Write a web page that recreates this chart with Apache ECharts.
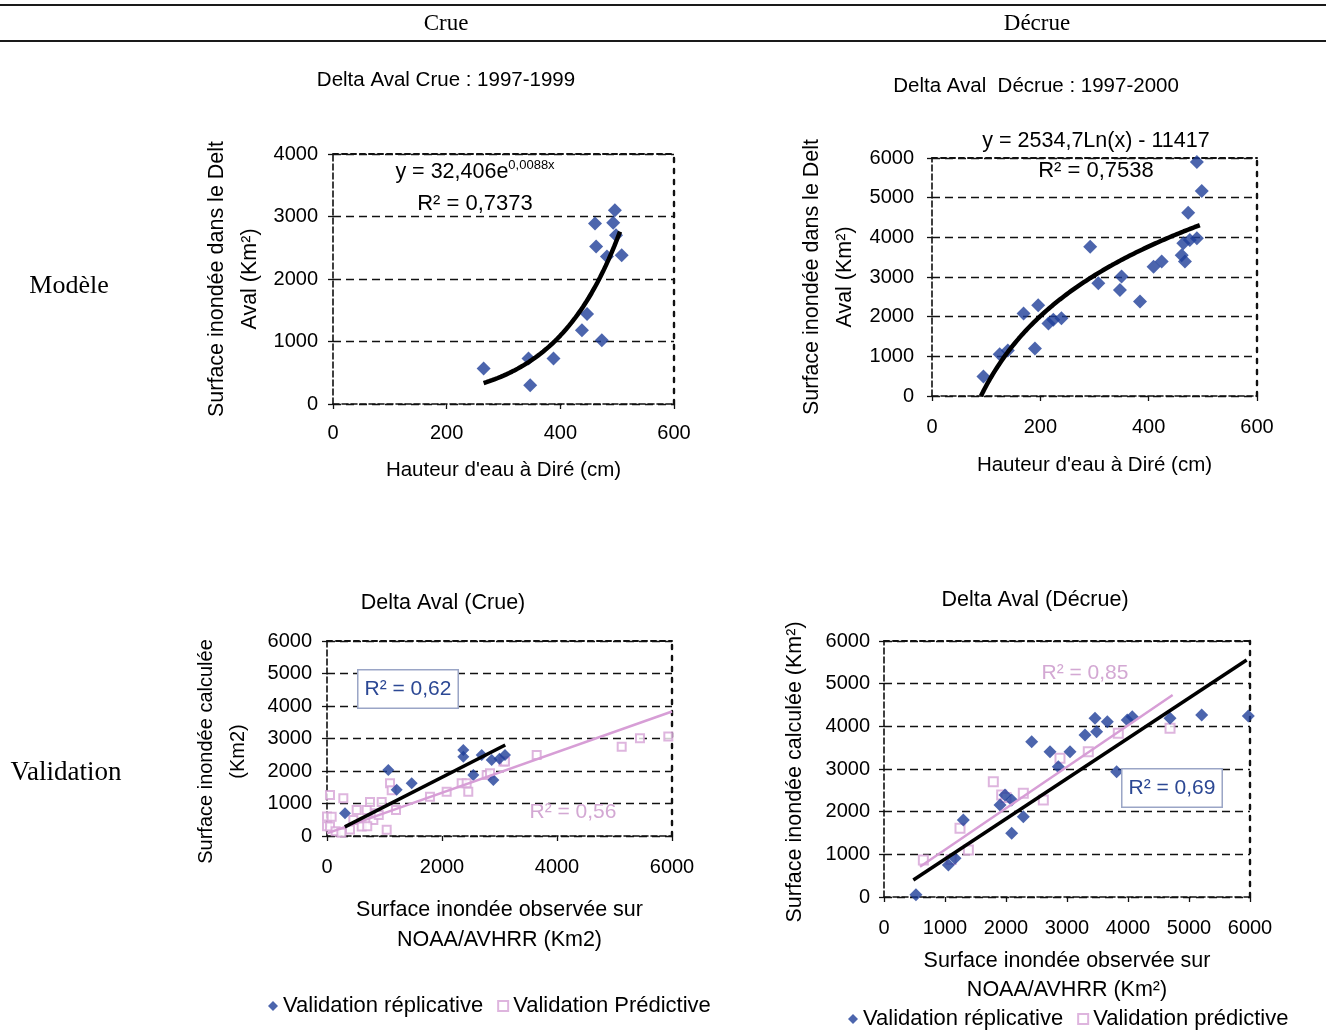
<!DOCTYPE html>
<html>
<head>
<meta charset="utf-8">
<script src="https://cdn.jsdelivr.net/npm/echarts@6/dist/echarts.min.js"></script>
<style>
  html, body { margin: 0; padding: 0; background: #fff; }
  #chart { width: 1326px; height: 1031px; }
</style>
</head>
<body>
<div id="chart"></div>
<script>
// ---- Modèle, crue : hauteur d'eau à Diré (cm) / surface inondée (km²)
const crueHauteur = [265, 344, 347, 388, 438, 447, 473, 461, 463, 482, 496, 493, 498, 508];
const crueSurface = [570, 730, 300, 730, 1180, 1440, 1020, 2890, 2520, 2360, 3100, 2900, 2700, 2380];
// exponential fit y = a·e^(b·x), as stated in the equation label
const crueFitA = 32.406, crueFitB = 0.0088, crueFitRange = [265, 505];

// ---- Modèle, décrue
const decrueHauteur = [489, 498, 473, 489, 476, 464, 467, 461, 292, 424, 409, 350, 347, 307, 384, 196, 169, 224, 215, 239, 190, 125, 140, 95];
const decrueSurface = [5900, 5170, 4620, 3980, 3930, 3850, 3390, 3550, 3760, 3390, 3260, 3010, 2670, 2840, 2380, 2290, 2080, 1920, 1830, 1960, 1200, 1050, 1150, 490];
// logarithmic fit y = a·ln(x) + b, as stated in the equation label
const decrueFitA = 2534.7, decrueFitB = -11417, decrueFitRange = [90.4, 495];

// ---- Validation, crue : surface observée NOAA/AVHRR / surface calculée (km²)
const crueRepObs  = [313, 1066, 1212, 1473, 2371, 2371, 2545, 2690, 2864, 2893, 3096, 3000];
const crueRepCalc = [700, 2030, 1420, 1620, 2650, 2440, 1880, 2490, 2340, 1720, 2490, 2380];
const cruePredObs  = [0, 0, 52, 81, 52, 150, 284, 458, 516, 603, 690, 748, 806, 951, 1038, 1096, 1125, 700, 850, 1200, 400, 250, 900, 1791, 2081, 2342, 2429, 2457, 2777, 2835, 3067, 3096, 3647, 5125, 5443, 5936];
const cruePredCalc = [300, 600, 1260, 590, 290, 150, 1160, 490, 800, 290, 800, 1050, 490, 1050, 190, 1620, 1410, 300, 700, 800, 200, 100, 650, 1210, 1360, 1620, 1620, 1360, 1880, 1930, 2290, 2290, 2490, 2750, 3010, 3060];
// regression lines (end points)
const crueRepFit  = [[310, 280], [3100, 2800]];
const cruePredFit = [[0, 80], [6000, 3830]];

// ---- Validation, décrue
const decrueRepObs  = [524, 1055, 1164, 1300, 1902, 1984, 2093, 2093, 2284, 2421, 2721, 2858, 3049, 3295, 3486, 3459, 3661, 3814, 3988, 4070, 4689, 5208, 5972];
const decrueRepCalc = [50, 750, 906, 1805, 2156, 2391, 2273, 1492, 1883, 3640, 3406, 3054, 3406, 3796, 3874, 4187, 4109, 2937, 4148, 4226, 4187, 4265, 4242];
const decruePredObs  = [645, 1246, 1383, 1792, 1929, 2284, 2612, 2885, 3349, 3841, 4689, 1100, 2000];
const decruePredCalc = [867, 1609, 1101, 2702, 2391, 2429, 2273, 3250, 3406, 3836, 3953, 880, 2330];
const decrueRepFit  = [[481, 398], [5945, 5554]];
const decruePredFit = [[590, 711], [4732, 4734]];

// ---- tick settings
const hauteurTicks = { min: 0, max: 600, interval: 200 };
const crueSurfTicks = { min: 0, max: 4000, interval: 1000 };
const decrueSurfTicks = { min: 0, max: 6000, interval: 1000 };
const valCrueXTicks = { min: 0, max: 6000, interval: 2000 };
const valDecrueXTicks = { min: 0, max: 6000, interval: 1000 };
const valYTicks = { min: 0, max: 6000, interval: 1000 };

const SANS = "'Liberation Sans', Arial, sans-serif";
const SERIF = "'Liberation Serif', 'Times New Roman', serif";
const BLUE = '#1f3f98';
const PINK = '#d79ed6';
const PINK_SQ = '#d6a2d6';
const FS = 20;

const pairs = (xs, ys) => xs.map((x, i) => [x, ys[i]]);
function curve(f, range, step) {
  const pts = [];
  for (let x = range[0]; x < range[1]; x += step) pts.push([x, f(x)]);
  pts.push([range[1], f(range[1])]);
  return pts;
}
const crueFit = curve(x => crueFitA * Math.exp(crueFitB * x), crueFitRange, 5);
const decrueFit = curve(x => decrueFitA * Math.log(x) + decrueFitB, decrueFitRange, 2);

const grids = [
  { left: 333, right: 652, top: 154, bottom: 627 },
  { left: 932, right: 69, top: 158, bottom: 635 },
  { left: 327, right: 654, top: 641, bottom: 195 },
  { left: 884, right: 76, top: 641, bottom: 134 }
];

const axisLineStyle = { color: '#111', width: 1.6, type: [6, 3] };
const gridLineStyle = { color: '#111', width: 1.3, type: [8, 5] };
const labelStyle = { fontFamily: SANS, fontSize: FS, color: '#000', formatter: v => String(v) };

function xMain(gi, ticks, name, gap, fontSize, lineHeight, margin) {
  return Object.assign({
    type: 'value', gridIndex: gi, position: 'bottom',
    name: name, nameLocation: 'middle', nameGap: gap,
    nameTextStyle: { fontFamily: SANS, fontSize: fontSize, color: '#000', lineHeight: lineHeight },
    axisLine: { show: true, onZero: false, lineStyle: axisLineStyle },
    axisTick: { show: true, length: 5, lineStyle: { color: '#111', width: 1.3 } },
    axisLabel: Object.assign({ margin: margin }, labelStyle),
    splitLine: { show: false }
  }, ticks);
}
function yMain(gi, ticks, name, gap, fontSize, lineHeight, margin, extra) {
  return Object.assign({
    type: 'value', gridIndex: gi, position: 'left',
    name: name, nameLocation: 'middle', nameGap: gap,
    nameTextStyle: Object.assign({ fontFamily: SANS, fontSize: fontSize, color: '#000', lineHeight: lineHeight }, extra || {}),
    axisLine: { show: true, onZero: false, lineStyle: axisLineStyle },
    axisTick: { show: true, length: 5, lineStyle: { color: '#111', width: 1.3 } },
    axisLabel: Object.assign({ margin: margin }, labelStyle),
    splitLine: { show: true, lineStyle: gridLineStyle }
  }, ticks);
}
// dashed frame on the top and right sides of each plot
function xFrame(gi, ticks) {
  return Object.assign({
    type: 'value', gridIndex: gi, position: 'top',
    axisLine: { show: true, onZero: false, lineStyle: { color: '#111', width: 2, type: [5, 4] } },
    axisTick: { show: false }, axisLabel: { show: false }, splitLine: { show: false }
  }, ticks);
}
function yFrame(gi, ticks) {
  return Object.assign({
    type: 'value', gridIndex: gi, position: 'right',
    axisLine: { show: true, onZero: false, lineStyle: { color: '#111', width: 2.4, type: [4, 7] } },
    axisTick: { show: false }, axisLabel: { show: false }, splitLine: { show: false }
  }, ticks);
}

const hauteurName = "Hauteur d'eau à Diré (cm)";
const surfDeltaName = 'Surface inondée dans le Delta\nAval (Km²)';
const titleStyle = { fontFamily: SANS, fontSize: 20.5, fontWeight: 'normal', color: '#000' };
const titleStyleLow = { fontFamily: SANS, fontSize: 21.5, fontWeight: 'normal', color: '#000' };

const option = {
  animation: false,
  backgroundColor: '#fff',
  title: [
    { text: 'Delta Aval Crue : 1997-1999', left: 446, top: 70, padding: 0, textAlign: 'center', textStyle: titleStyle },
    { text: 'Delta Aval  Décrue : 1997-2000', left: 1036, top: 76, padding: 0, textAlign: 'center', textStyle: titleStyle },
    { text: 'Delta Aval (Crue)', left: 443, top: 592, padding: 0, textAlign: 'center', textStyle: titleStyleLow },
    { text: 'Delta Aval (Décrue)', left: 1035, top: 589, padding: 0, textAlign: 'center', textStyle: titleStyleLow }
  ],
  grid: grids,
  xAxis: [
    xMain(0, hauteurTicks, hauteurName, 55, 20.5, 22, 19),
    xMain(1, hauteurTicks, hauteurName, 58, 20.5, 22, 21),
    xMain(2, valCrueXTicks, 'Surface inondée observée sur\nNOAA/AVHRR (Km2)', 59, 21.5, 30, 21),
    xMain(3, valDecrueXTicks, 'Surface inondée observée sur\nNOAA/AVHRR (Km²)', 50, 21.5, 29, 21),
    xFrame(0, hauteurTicks), xFrame(1, hauteurTicks),
    xFrame(2, valCrueXTicks), xFrame(3, valDecrueXTicks)
  ],
  yAxis: [
    Object.assign(yMain(0, crueSurfTicks, surfDeltaName, 66, 21.5, 33, 15),
      { nameTruncate: { maxWidth: 284, ellipsis: '' } }),
    Object.assign(yMain(1, decrueSurfTicks, surfDeltaName, 70, 21.5, 33, 18),
      { nameTruncate: { maxWidth: 284, ellipsis: '' } }),
    yMain(2, valYTicks, 'Surface inondée calculée\n(Km2)', 73, 20, 32, 15, { padding: [0, 26, 0, 0] }),
    yMain(3, valYTicks, 'Surface inondée calculée (Km²)', 78, 21.5, 22, 14, { padding: [0, 6, 0, 0] }),
    yFrame(0, crueSurfTicks), yFrame(1, decrueSurfTicks),
    yFrame(2, valYTicks), yFrame(3, valYTicks)
  ],
  legend: [
    { left: 268, top: 995, padding: 0, itemWidth: 10, itemHeight: 10, itemGap: 14,
      data: ['Validation réplicative', 'Validation Prédictive'],
      textStyle: { fontFamily: SANS, fontSize: 22, color: '#000' } },
    { left: 848, top: 1008, padding: 0, itemWidth: 10, itemHeight: 10, itemGap: 14,
      data: ['Validation réplicative', 'Validation prédictive'],
      textStyle: { fontFamily: SANS, fontSize: 22, color: '#000' } }
  ],
  series: [
    // Modèle crue
    { type: 'scatter', name: 'Crue', xAxisIndex: 0, yAxisIndex: 0, symbol: 'diamond', symbolSize: 14,
      itemStyle: { color: BLUE }, data: pairs(crueHauteur, crueSurface), z: 3 },
    { type: 'line', name: 'Crue ajustement', xAxisIndex: 0, yAxisIndex: 0, showSymbol: false, symbol: 'none',
      lineStyle: { color: '#000', width: 4.5 }, data: crueFit, z: 4, silent: true },
    // Modèle décrue
    { type: 'scatter', name: 'Décrue', xAxisIndex: 1, yAxisIndex: 1, symbol: 'diamond', symbolSize: 14,
      itemStyle: { color: BLUE }, data: pairs(decrueHauteur, decrueSurface), z: 3 },
    { type: 'line', name: 'Décrue ajustement', xAxisIndex: 1, yAxisIndex: 1, showSymbol: false, symbol: 'none',
      lineStyle: { color: '#000', width: 4.5 }, data: decrueFit, z: 4, silent: true },
    // Validation crue
    { type: 'scatter', name: 'Validation Prédictive', xAxisIndex: 2, yAxisIndex: 2, symbol: 'emptyRect', symbolSize: 8,
      itemStyle: { color: PINK_SQ, borderWidth: 1.4 }, data: pairs(cruePredObs, cruePredCalc), z: 2 },
    { type: 'scatter', name: 'Validation réplicative', xAxisIndex: 2, yAxisIndex: 2, symbol: 'diamond', symbolSize: 12,
      itemStyle: { color: BLUE }, data: pairs(crueRepObs, crueRepCalc), z: 3 },
    { type: 'line', name: 'crue prédictive droite', xAxisIndex: 2, yAxisIndex: 2, showSymbol: false, symbol: 'none',
      lineStyle: { color: PINK, width: 2.5 }, data: cruePredFit, z: 4, silent: true },
    { type: 'line', name: 'crue réplicative droite', xAxisIndex: 2, yAxisIndex: 2, showSymbol: false, symbol: 'none',
      lineStyle: { color: '#000', width: 3.5 }, data: crueRepFit, z: 5, silent: true },
    // Validation décrue
    { type: 'scatter', name: 'Validation prédictive', xAxisIndex: 3, yAxisIndex: 3, symbol: 'emptyRect', symbolSize: 9,
      itemStyle: { color: PINK_SQ, borderWidth: 1.4 }, data: pairs(decruePredObs, decruePredCalc), z: 2 },
    { type: 'scatter', name: 'Validation réplicative', xAxisIndex: 3, yAxisIndex: 3, symbol: 'diamond', symbolSize: 13,
      itemStyle: { color: BLUE }, data: pairs(decrueRepObs, decrueRepCalc), z: 3 },
    { type: 'line', name: 'décrue prédictive droite', xAxisIndex: 3, yAxisIndex: 3, showSymbol: false, symbol: 'none',
      lineStyle: { color: PINK, width: 2.5 }, data: decruePredFit, z: 4, silent: true },
    { type: 'line', name: 'décrue réplicative droite', xAxisIndex: 3, yAxisIndex: 3, showSymbol: false, symbol: 'none',
      lineStyle: { color: '#000', width: 3.5 }, data: decrueRepFit, z: 5, silent: true }
  ],
  graphic: [
    // table rules and headings
    { type: 'line', shape: { x1: 0, y1: 5, x2: 1326, y2: 5 }, style: { stroke: '#1a1a1a', lineWidth: 2 }, z: 50 },
    { type: 'line', shape: { x1: 0, y1: 41, x2: 1326, y2: 41 }, style: { stroke: '#1a1a1a', lineWidth: 2 }, z: 50 },
    { type: 'text', x: 446, y: 24, z: 50, style: { text: 'Crue', font: '23px ' + SERIF, fill: '#000', align: 'center', verticalAlign: 'middle' } },
    { type: 'text', x: 1037, y: 24, z: 50, style: { text: 'Décrue', font: '23px ' + SERIF, fill: '#000', align: 'center', verticalAlign: 'middle' } },
    { type: 'text', x: 69, y: 286, z: 50, style: { text: 'Modèle', font: '26px ' + SERIF, fill: '#000', align: 'center', verticalAlign: 'middle' } },
    { type: 'text', x: 66, y: 773, z: 50, style: { text: 'Validation', font: '27px ' + SERIF, fill: '#000', align: 'center', verticalAlign: 'middle' } },
    // fitted equations
    { type: 'text', x: 475, y: 172, z: 60, style: {
        text: 'y = 32,406e{sup|0,0088x}', fill: '#000', align: 'center', verticalAlign: 'middle',
        fontFamily: SANS, fontSize: 21.5, lineHeight: 26,
        rich: { sup: { fontFamily: SANS, fontSize: 13, verticalAlign: 'top', lineHeight: 13, fill: '#000' } } } },
    { type: 'text', x: 475, y: 204, z: 60, style: { text: 'R² = 0,7373', fontFamily: SANS, fontSize: 22, fill: '#000', align: 'center', verticalAlign: 'middle' } },
    { type: 'text', x: 1096, y: 141, z: 60, style: { text: 'y = 2534,7Ln(x) - 11417', fontFamily: SANS, fontSize: 21.5, fill: '#000', align: 'center', verticalAlign: 'middle' } },
    { type: 'text', x: 1096, y: 171, z: 60, style: { text: 'R² = 0,7538', fontFamily: SANS, fontSize: 22, fill: '#000', align: 'center', verticalAlign: 'middle' } },
    // validation R²
    { type: 'text', x: 408, y: 689, z: 60, style: { text: 'R² = 0,62', fontFamily: SANS, fontSize: 21, fill: '#2c4894',
        align: 'center', verticalAlign: 'middle', backgroundColor: '#fff', borderColor: '#9aa5c6', borderWidth: 1.5, padding: [8, 6, 8, 6] } },
    { type: 'text', x: 573, y: 812, z: 60, style: { text: 'R² = 0,56', fontFamily: SANS, fontSize: 21, fill: '#d3a8d3', align: 'center', verticalAlign: 'middle' } },
    { type: 'text', x: 1085, y: 673, z: 60, style: { text: 'R² = 0,85', fontFamily: SANS, fontSize: 21, fill: '#d3a8d3', align: 'center', verticalAlign: 'middle' } },
    { type: 'text', x: 1172, y: 788, z: 60, style: { text: 'R² = 0,69', fontFamily: SANS, fontSize: 21, fill: '#2c4894',
        align: 'center', verticalAlign: 'middle', backgroundColor: '#fff', borderColor: '#9aa5c6', borderWidth: 1.5, padding: [8, 6, 8, 6] } }
  ]
};

const chart = echarts.init(document.getElementById('chart'), null, { renderer: 'canvas' });
chart.setOption(option);
</script>
</body>
</html>
